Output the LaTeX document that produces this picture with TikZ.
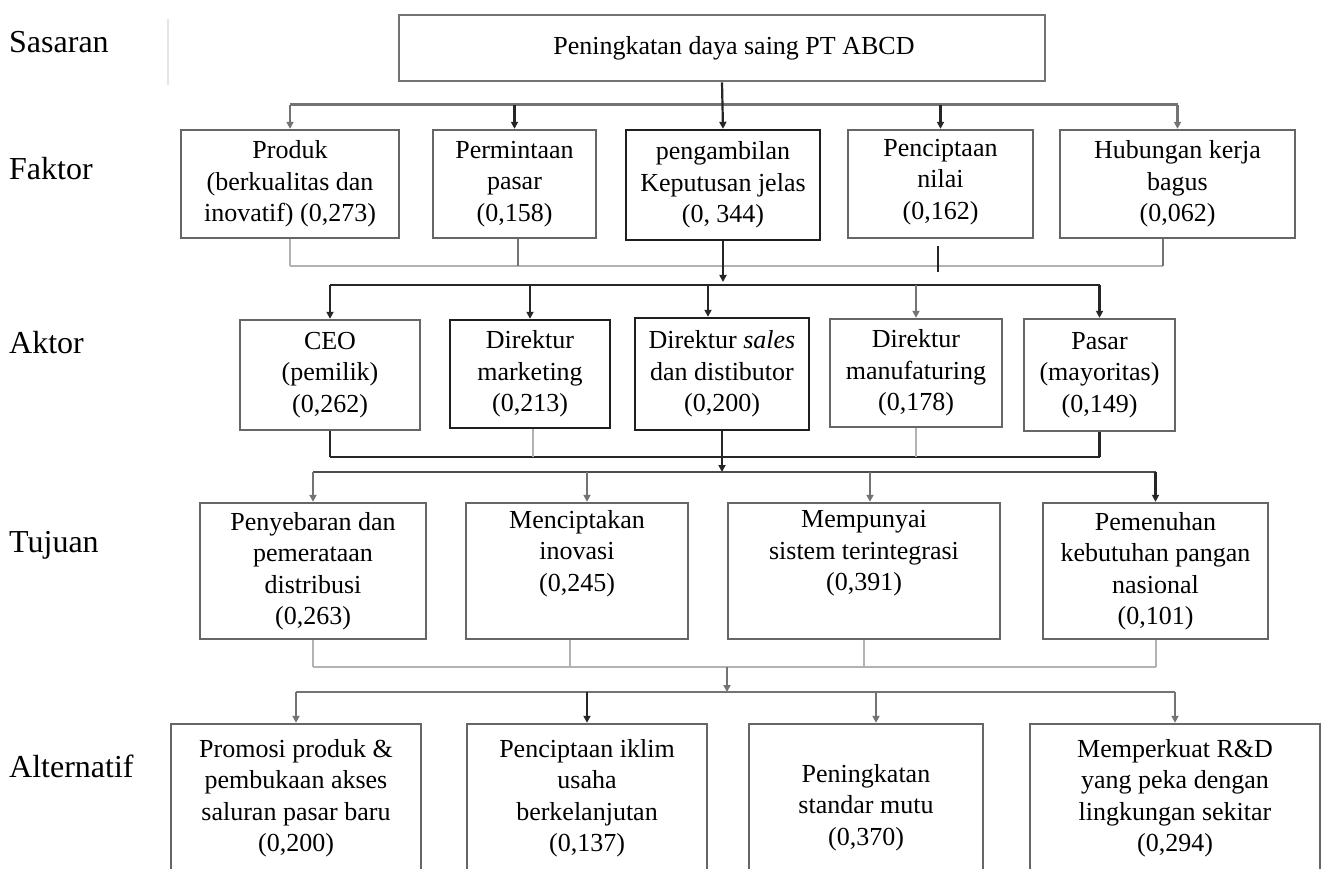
\documentclass[tikz,border=0pt]{standalone}
\usepackage{fontspec}
\setmainfont{Liberation Serif}
\usetikzlibrary{arrows.meta,calc}
\newcommand\bxfont{\fontsize{26}{31.5}\selectfont}
\newcommand\lbfont{\fontsize{32}{36}\selectfont}
\begin{document}
\begin{tikzpicture}[x=1pt,y=-1pt,
  box/.style={draw=black!60,line width=2.4pt,align=center,inner sep=0pt,font=\bxfont},
  dbox/.style={box,draw=black!88},
  txt/.style={align=center,inner sep=0pt,font=\bxfont},
  lbl/.style={anchor=base west,inner sep=0pt,font=\lbfont},
  tip/.style={-{Triangle[length=7pt,width=7pt]}},
  dk/.style={draw=black!85,line width=2.2pt},
  md/.style={draw=black!55,line width=2.4pt},
  lt/.style={draw=black!30,line width=2pt}
]
\useasboundingbox (0,0) rectangle (1323,869);

% row labels
\node[lbl] (lS) at (9,53) {Sasaran};
\node[lbl] (lF) at (9,180) {Faktor};
\node[lbl] (lA) at (9,353) {Aktor};
\node[lbl] (lT) at (9,552) {Tujuan};
\node[lbl] (lX) at (9,777) {Alternatif};
\draw[draw=black!10,line width=1.5pt] (168,19) -- (168,85);

% goal
\node[box,draw=black!55,line width=2.8pt,minimum width=646,minimum height=66] (s) at (722,48) {\hspace*{24pt}Peningkatan daya saing PT ABCD};

% factors
\node[box,minimum width=218,minimum height=108] (f1) at (290,184) {Produk\\(berkualitas dan\\inovatif) (0,273)};
\node[box,minimum width=163,minimum height=108] (f2) at (514.5,184) {Permintaan\\pasar\\(0,158)};
\node[dbox,minimum width=194,minimum height=110] (f3) at (723,185) {pengambilan\\Keputusan jelas\\(0, 344)};
\node[box,minimum width=185,minimum height=108] (f4) at (940.5,184) {Penciptaan\\nilai\\(0,162)\\[-22pt]\mbox{}};
\node[box,minimum width=235,minimum height=108] (f5) at (1177.5,184) {Hubungan kerja\\bagus\\(0,062)};

% actors
\node[box,minimum width=180,minimum height=110] (a1) at (330,375) {CEO\\(pemilik)\\(0,262)};
\node[dbox,minimum width=160,minimum height=108] (a2) at (530,374) {Direktur\\marketing\\(0,213)};
\node[dbox,minimum width=174,minimum height=112] (a3) at (722,374) {Direktur \textit{sales}\\dan distibutor\\(0,200)};
\node[box,minimum width=172,minimum height=108] (a4) at (916,373) {Direktur\\manufaturing\\(0,178)};
\node[box,minimum width=151,minimum height=112] (a5) at (1099.5,375) {Pasar\\(mayoritas)\\(0,149)};

% objectives
\node[box,minimum width=226,minimum height=136] (t1) at (313,571) {Penyebaran dan\\pemerataan\\distribusi\\(0,263)};
\node[box,minimum width=222,minimum height=136] (t2) at (577,571) {Menciptakan\\inovasi\\(0,245)\\\strut};
\node[box,minimum width=272,minimum height=136] (t3) at (864,571) {Mempunyai\\sistem terintegrasi\\(0,391)\\\strut};
\node[box,minimum width=225,minimum height=136] (t4) at (1155.5,571) {Pemenuhan\\kebutuhan pangan\\nasional\\(0,101)};

% alternatives
\node[box,minimum width=250,minimum height=148] (x1) at (296,798) {Promosi produk \&\\pembukaan akses\\saluran pasar baru\\(0,200)};
\node[box,minimum width=240,minimum height=148] (x2) at (587,798) {Penciptaan iklim\\usaha\\berkelanjutan\\(0,137)};
\node[box,minimum width=234,minimum height=148] (x3) at (866,798) {};
\node[txt] (x3t) at ([yshift=-9.5pt]x3.center) {Peningkatan\\standar mutu\\(0,370)};
\node[box,minimum width=290,minimum height=148] (x4) at (1175,798) {Memperkuat R\&D\\yang peka dengan\\lingkungan sekitar\\(0,294)};

% bus levels
\coordinate (b1) at (0,105);
\coordinate (b2) at (0,266);
\coordinate (b3) at (0,285);
\coordinate (b4) at (0,457);
\coordinate (b5) at (0,472);
\coordinate (b6) at (0,667);
\coordinate (b7) at (0,692);

% goal -> factors
\draw[md,line width=3pt] (f1.north|-b1) -- (f5.north|-b1);
\draw[dk,tip] (s.south) -- (f3.north);
\draw[md,tip] (f1.north|-b1) -- (f1.north);
\draw[dk,tip] (f2.north|-b1) -- (f2.north);
\draw[dk,tip] (f4.north|-b1) -- (f4.north);
\draw[md,tip] (f5.north|-b1) -- (f5.north);

% factors -> actors
\draw[lt] (f1.south|-b2) -- ([xshift=-14.5pt]f5.south|-b2);
\draw[lt] (f1.south) -- (f1.south|-b2);
\draw[md,line width=2pt] ([xshift=3pt]f2.south) -- ([xshift=3pt]f2.south|-b2);
\draw[md,line width=2pt] ([xshift=-14.5pt]f5.south) -- ([xshift=-14.5pt]f5.south|-b2);
\coordinate (f4a) at ([xshift=-2.5pt,yshift=-7pt]f4.south);
\coordinate (f4b) at ([xshift=-2.5pt]f4.south|-b2);
\draw[dk] (f4a) -- ([yshift=-6pt]f4b);
\draw[dk,tip] (f3.south) -- ([yshift=3pt]f3.south|-b3);

\draw[dk] (a1.north|-b3) -- (a5.north|-b3);
\draw[dk,tip] (a1.north|-b3) -- (a1.north);
\draw[dk,tip] (a2.north|-b3) -- (a2.north);
\draw[dk,tip] ([xshift=-14pt]a3.north|-b3) -- ([xshift=-14pt]a3.north);
\draw[md,line width=2pt,tip] (a4.north|-b3) -- (a4.north);
\draw[dk,tip] (a5.north|-b3) -- (a5.north);

% actors -> objectives
\draw[dk] (a1.south|-b4) -- (a5.south|-b4);
\draw[dk] (a1.south) -- (a1.south|-b4);
\draw[lt] ([xshift=3pt]a2.south) -- ([xshift=3pt]a2.south|-b4);
\draw[lt] (a4.south) -- (a4.south|-b4);
\draw[dk] (a5.south) -- (a5.south|-b4);
\draw[dk,tip] (a3.south) -- (a3.south|-b5);

\draw[draw=black!70,line width=2.2pt] (t1.north|-b5) -- (t4.north|-b5);
\draw[md,line width=2pt,tip] (t1.north|-b5) -- (t1.north);
\draw[md,line width=2pt,tip] ([xshift=10pt]t2.north|-b5) -- ([xshift=10pt]t2.north);
\draw[md,line width=2pt,tip] ([xshift=6pt]t3.north|-b5) -- ([xshift=6pt]t3.north);
\draw[dk,tip] (t4.north|-b5) -- (t4.north);

% objectives -> alternatives
\draw[lt] (t1.south|-b6) -- (t4.south|-b6);
\draw[lt] (t1.south) -- (t1.south|-b6);
\draw[lt] ([xshift=-7pt]t2.south) -- ([xshift=-7pt]t2.south|-b6);
\draw[lt] (t3.south) -- (t3.south|-b6);
\draw[lt] (t4.south) -- (t4.south|-b6);
\coordinate (d1) at (727,667);
\coordinate (d2) at (727,692);
\draw[md,line width=2pt,tip] (d1) -- (d2);

\draw[md,line width=2.2pt] (x1.north|-b7) -- (x4.north|-b7);
\draw[md,line width=2pt,tip] (x1.north|-b7) -- (x1.north);
\draw[dk,tip] (x2.north|-b7) -- (x2.north);
\draw[md,line width=2pt,tip] ([xshift=10pt]x3.north|-b7) -- ([xshift=10pt]x3.north);
\draw[md,line width=2pt,tip] (x4.north|-b7) -- (x4.north);
\end{tikzpicture}
\end{document}
